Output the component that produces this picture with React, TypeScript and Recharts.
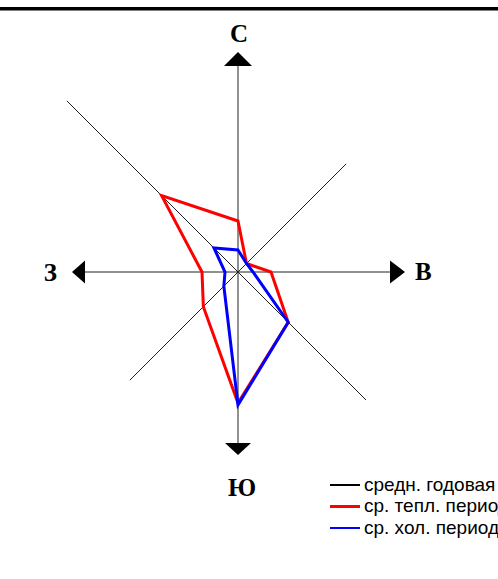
import React from "react";
import {
  RadarChart,
  Radar,
  PolarAngleAxis,
  PolarRadiusAxis,
  Legend,
} from "recharts";

// wind directions, clockwise from north
const directions = ["С", "СВ", "В", "ЮВ", "Ю", "ЮЗ", "З", "СЗ"];

// repeatability of wind, %
const warmPeriod = [10.2, 2.4, 6.6, 14.2, 26.2, 9.8, 7.2, 21.6];
const coldPeriod = [4.4, 2.4, 3.0, 14.2, 26.6, 4.0, 2.6, 6.8];

const legendItems = [
  { label: "средн. годовая", color: "#000000" },
  { label: "ср. тепл. период", color: "#ff0000" },
  { label: "ср. хол. период", color: "#0000ff" },
];

const data = directions.map((d, i) => ({
  dir: d,
  warm: warmPeriod[i],
  cold: coldPeriod[i],
}));

const W = 498;
const H = 579;
const CX = 238;
const CY = 272;

function Compass() {
  // spokes: angle (deg, from east, counter-clockwise) and length in px
  const spokes = [
    { a: 90, len: 206 },
    { a: -90, len: 171 },
    { a: 0, len: 152 },
    { a: 180, len: 153 },
    { a: 45, len: 153 },
    { a: -135, len: 153 },
    { a: 135, len: 242 },
    { a: -45, len: 181 },
  ];
  const font = "'Liberation Serif', 'Times New Roman', serif";
  return (
    <svg
      width={W}
      height={H}
      style={{ position: "absolute", left: 0, top: 0 }}
    >
      <rect x={0} y={7} width={W} height={3.5} fill="#000" />
      {spokes.map((s, i) => {
        const r = (s.a * Math.PI) / 180;
        return (
          <line
            key={i}
            x1={CX}
            y1={CY}
            x2={CX + s.len * Math.cos(r)}
            y2={CY - s.len * Math.sin(r)}
            stroke="#222"
            strokeWidth={1}
          />
        );
      })}
      {/* arrow heads */}
      <polygon points={`${CX},${CY - 220} ${CX - 14},${CY - 206} ${CX + 14},${CY - 206}`} fill="#000" />
      <polygon points={`${CX},${CY + 183} ${CX - 13},${CY + 171} ${CX + 13},${CY + 171}`} fill="#000" />
      <polygon points={`${CX + 167},${CY} ${CX + 152},${CY - 11.5} ${CX + 152},${CY + 11.5}`} fill="#000" />
      <polygon points={`${CX - 166},${CY} ${CX - 153},${CY - 11.5} ${CX - 153},${CY + 11.5}`} fill="#000" />
      <text x={CX + 1} y={CY - 230} textAnchor="middle" fontFamily={font} fontWeight="bold" fontSize={25}>
        С
      </text>
      <text x={CX + 4} y={CY + 224} textAnchor="middle" fontFamily={font} fontWeight="bold" fontSize={25}>
        Ю
      </text>
      <text x={CX + 177} y={CY + 8} textAnchor="start" fontFamily={font} fontWeight="bold" fontSize={25}>
        В
      </text>
      <text x={CX - 181} y={CY + 9} textAnchor="end" fontFamily={font} fontWeight="bold" fontSize={25}>
        З
      </text>
    </svg>
  );
}

function LegendBox() {
  return (
    <div style={{ fontFamily: "'Liberation Sans', Arial, sans-serif", fontSize: 19 }}>
      {legendItems.map((it) => (
        <div
          key={it.label}
          style={{ display: "flex", alignItems: "center", height: 21.5, whiteSpace: "nowrap" }}
        >
          <span
            style={{
              display: "inline-block",
              width: 30,
              height: 2.5,
              background: it.color,
              marginRight: 4,
              flexShrink: 0,
            }}
          />
          <span style={{ color: "#000" }}>{it.label}</span>
        </div>
      ))}
    </div>
  );
}

export default function App() {
  return (
    <div
      style={{
        position: "fixed",
        left: 0,
        top: 0,
        width: W,
        height: H,
        background: "#fff",
        overflow: "hidden",
      }}
    >
      <Compass />
      <div style={{ position: "absolute", left: 0, top: 0 }}>
        <RadarChart
          width={W}
          height={H}
          data={data}
          cx={CX}
          cy={CY}
          outerRadius={175}
          margin={{ top: 0, right: 0, bottom: 0, left: 0 }}
        >
          <PolarAngleAxis dataKey="dir" tick={false} axisLine={false} />
          <PolarRadiusAxis domain={[0, 35]} tick={false} axisLine={false} />
          <Radar
            dataKey="warm"
            stroke="#ff0000"
            strokeWidth={3}
            fill="none"
            fillOpacity={0}
            dot={false}
            isAnimationActive={false}
          />
          <Radar
            dataKey="cold"
            stroke="#0000ff"
            strokeWidth={3}
            fill="none"
            fillOpacity={0}
            dot={false}
            isAnimationActive={false}
          />
          <Legend
            content={() => <LegendBox />}
            wrapperStyle={{ position: "absolute", left: 330, top: 474, width: 200 }}
          />
        </RadarChart>
      </div>
    </div>
  );
}
